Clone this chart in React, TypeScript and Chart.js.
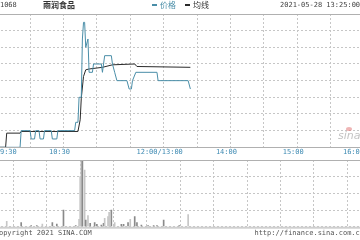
import React, { useEffect, useRef } from "react";
import { Chart, registerables } from "chart.js";

Chart.register(...registerables);

// ---- data (minutes after 09:30, lunch break removed) ----
const stockCode = "01068";
const stockName = "雨润食品";
const legendLabels = ["价格", "均线"];
const stampText = "2021-05-28 13:25:00";
const copyrightText = "Copyright 2021 SINA.COM";
const siteText = "http://finance.sina.com.cn";
const watermarkText = "sina";

const tickMinutes = [0, 60, 150, 210, 270, 330];
const tickLabels = ["09:30", "10:30", "12:00/13:00", "14:00", "15:00", "16:00"];

const priceMin = 0.92;
const priceMax = 1.08;
const priceStep = 0.02;

const priceMinutes = [0, 21, 22, 30, 31, 34, 35, 38, 39, 42, 43, 49, 50, 54, 55, 70, 71, 73, 74, 76, 77, 78, 79, 80, 82, 83, 86, 87, 94, 95, 96, 97, 103, 104, 106, 108, 117, 119, 121, 122, 125, 144, 145, 172, 174];
const priceValues = [0.92, 0.92, 0.94, 0.94, 0.93, 0.93, 0.94, 0.94, 0.93, 0.93, 0.94, 0.94, 0.93, 0.93, 0.94, 0.94, 0.95, 0.95, 0.98, 0.98, 1.05, 1.07, 1.07, 1.04, 1.05, 1.01, 1.01, 1.02, 1.02, 1.01, 1.02, 1.03, 1.03, 1.02, 1.01, 1.0, 1.0, 0.99, 0.99, 1.0, 1.01, 1.01, 1.0, 1.0, 0.99];

const avgMinutes = [0, 8, 9, 21, 22, 73, 75, 76, 78, 80, 83, 95, 104, 124, 126, 174];
const avgValues = [0.92, 0.92, 0.937, 0.937, 0.939, 0.939, 0.953, 0.979, 1.005, 1.013, 1.014, 1.016, 1.019, 1.02, 1.017, 1.016];

const volMin = 0;
const volMax = 400;
const volStep = 100;
const volMinutes = [9, 22, 31, 36, 41, 50, 54, 60, 71, 74, 75, 76, 77, 79, 80, 82, 84, 88, 90, 94, 96, 97, 100, 101, 103, 106, 112, 114, 118, 120, 124, 126, 130, 136, 141, 144, 150, 164, 172];
const volValues = [32, 24, 6, 6, 16, 24, 16, 100, 6, 44, 300, 400, 400, 340, 40, 66, 20, 24, 14, 10, 20, 50, 60, 86, 100, 24, 14, 14, 24, 44, 60, 24, 10, 6, 6, 6, 40, 6, 72];
const volLight = [1, 0, 0, 0, 1, 0, 0, 0, 0, 1, 1, 1, 0, 1, 0, 1, 0, 0, 0, 0, 0, 1, 1, 1, 0, 1, 0, 0, 0, 1, 0, 0, 0, 0, 0, 0, 0, 0, 1];

const sessionMinutes = 330;
const gridMinutes = 30;

// ---- styles ----
const PRICE_COLOR = "#4a8ea8";
const AVG_COLOR = "#2a2a2a";
const GRID_COLOR = "#c6c6c6";
const BORDER_COLOR = "#b0b0b0";
const LABEL_COLOR = "#3f8bb3";
const MONO = '"DejaVu Sans Mono", "Liberation Mono", monospace';
const CJK = '"Noto Sans CJK SC", "Noto Sans", sans-serif';

const W = 400;
const OFFSET_X = -20;

export default function App() {
  const priceRef = useRef<HTMLCanvasElement | null>(null);
  const volRef = useRef<HTMLCanvasElement | null>(null);

  useEffect(() => {
    if (!priceRef.current || !volRef.current) return;

    const fixX = (s: any) => { s.height = 0; };
    const fixY = (s: any) => { s.width = 0; };

    const pricePlugin = {
      id: "priceDeco",
      afterDraw(chart: any) {
        const { ctx, chartArea: a, scales } = chart;
        ctx.save();
        ctx.strokeStyle = BORDER_COLOR;
        ctx.lineWidth = 1;
        ctx.strokeRect(a.left, Math.round(a.top) + 0.5, a.right - a.left, Math.round(a.bottom) - Math.round(a.top));
        // x labels
        ctx.font = "7px " + MONO;
        ctx.fillStyle = LABEL_COLOR;
        ctx.textBaseline = "middle";
        tickMinutes.forEach((m, i) => {
          const px = scales.x.getPixelForValue(m);
          if (i === 0) { ctx.textAlign = "left"; ctx.fillText(tickLabels[i], px - 1, a.bottom + 4.5); }
          else if (i === tickMinutes.length - 1) { ctx.textAlign = "right"; ctx.fillText(tickLabels[i], px, a.bottom + 4.5); }
          else { ctx.textAlign = "center"; ctx.fillText(tickLabels[i], px - 4, a.bottom + 4.5); }
        });
        // header
        const hy = 5;
        ctx.textAlign = "left";
        ctx.fillStyle = "#444";
        ctx.font = "7px " + MONO;
        ctx.fillText(stockCode, a.left - 1, hy);
        ctx.font = "bold 8px " + CJK;
        ctx.fillStyle = "#333";
        ctx.fillText(stockName, 63, hy);
        // legend
        ctx.fillStyle = PRICE_COLOR;
        ctx.fillRect(172, hy - 1, 5, 2);
        ctx.font = "8px " + CJK;
        ctx.fillText(legendLabels[0], 180, hy);
        ctx.fillStyle = AVG_COLOR;
        ctx.fillRect(205, hy - 1, 5, 2);
        ctx.fillStyle = "#333";
        ctx.fillText(legendLabels[1], 213, hy);
        ctx.font = "7px " + MONO;
        ctx.fillStyle = "#444";
        ctx.fillText(stampText, 300, hy);
        // watermark
        ctx.fillStyle = "rgba(225,120,120,0.55)";
        ctx.beginPath();
        ctx.ellipse(369, 129, 3, 2, 0, 0, Math.PI * 2);
        ctx.fill();
        ctx.font = "italic 11px " + '"DejaVu Sans", sans-serif';
        ctx.fillStyle = "rgba(175,175,175,0.75)";
        ctx.textBaseline = "alphabetic";
        ctx.fillText(watermarkText, 358, 139);
        ctx.restore();
      },
    };

    const volPlugin = {
      id: "volDeco",
      afterDraw(chart: any) {
        const { ctx, chartArea: a } = chart;
        ctx.save();
        ctx.strokeStyle = BORDER_COLOR;
        ctx.lineWidth = 1;
        ctx.beginPath();
        ctx.moveTo(a.left, Math.round(a.top) + 0.5);
        ctx.lineTo(a.right, Math.round(a.top) + 0.5);
        ctx.stroke();
        ctx.fillStyle = "#cfcfcf";
        ctx.fillRect(a.left, a.bottom, a.right - a.left, 2);
        ctx.font = "7px " + MONO;
        ctx.fillStyle = "#555";
        ctx.textBaseline = "middle";
        ctx.textAlign = "left";
        ctx.fillText(copyrightText, a.left - 2, a.bottom + 6.5);
        ctx.textAlign = "right";
        ctx.fillText(siteText, a.right, a.bottom + 6.5);
        ctx.restore();
      },
    };

    const xScale = (extra: any = {}) => ({
      type: "linear",
      min: 0,
      max: sessionMinutes,
      offset: false,
      afterFit: fixX,
      ticks: { display: false, stepSize: gridMinutes },
      grid: { color: GRID_COLOR, drawTicks: false, lineWidth: 1 },
      border: { display: false, dash: [2, 2] },
      ...extra,
    });

    const priceChart = new Chart(priceRef.current, {
      type: "line",
      data: {
        datasets: [
          {
            label: legendLabels[0],
            data: priceMinutes.map((m, i) => ({ x: m, y: priceValues[i] })),
            borderColor: PRICE_COLOR,
            borderWidth: 1,
            pointRadius: 0,
            tension: 0,
          },
          {
            label: legendLabels[1],
            data: avgMinutes.map((m, i) => ({ x: m, y: avgValues[i] })),
            borderColor: AVG_COLOR,
            borderWidth: 1,
            pointRadius: 0,
            tension: 0,
          },
        ],
      },
      options: {
        animation: false,
        responsive: false,
        layout: { padding: { left: 16.7, right: 16, top: 14, bottom: 12.7 } },
        plugins: { legend: { display: false }, tooltip: { enabled: false } },
        scales: {
          x: xScale(),
          y: {
            min: priceMin,
            max: priceMax,
            afterFit: fixY,
            ticks: { display: false, stepSize: priceStep },
            grid: { color: GRID_COLOR, drawTicks: false },
            border: { display: false, dash: [2, 2] },
          },
        },
      } as any,
      plugins: [pricePlugin],
    } as any);

    const volChart = new Chart(volRef.current, {
      type: "bar",
      data: {
        datasets: [
          {
            data: volMinutes.map((m, i) => ({ x: m, y: volValues[i] })),
            backgroundColor: volLight.map((l) => (l ? "#c6c6c6" : "#8a8a8a")),
            barThickness: 1,
            borderWidth: 0,
          },
        ],
      },
      options: {
        animation: false,
        responsive: false,
        layout: { padding: { left: 16.7, right: 16, top: 10, bottom: 13.3 } },
        plugins: { legend: { display: false }, tooltip: { enabled: false } },
        scales: {
          x: xScale(),
          y: {
            min: volMin,
            max: volMax,
            afterFit: fixY,
            ticks: { display: false, stepSize: volStep },
            grid: { color: GRID_COLOR, drawTicks: false },
            border: { display: false, dash: [2, 2] },
          },
        },
      } as any,
      plugins: [volPlugin],
    } as any);

    return () => {
      priceChart.destroy();
      volChart.destroy();
    };
  }, []);

  return (
    <div style={{ position: "fixed", left: OFFSET_X, top: 0, width: W, height: 240, background: "#fff", overflow: "hidden" }}>
      <canvas ref={priceRef} width={W} height={160} style={{ position: "absolute", left: 0, top: 0, width: W, height: 160 }} />
      <canvas ref={volRef} width={W} height={90} style={{ position: "absolute", left: 0, top: 150, width: W, height: 90 }} />
    </div>
  );
}
